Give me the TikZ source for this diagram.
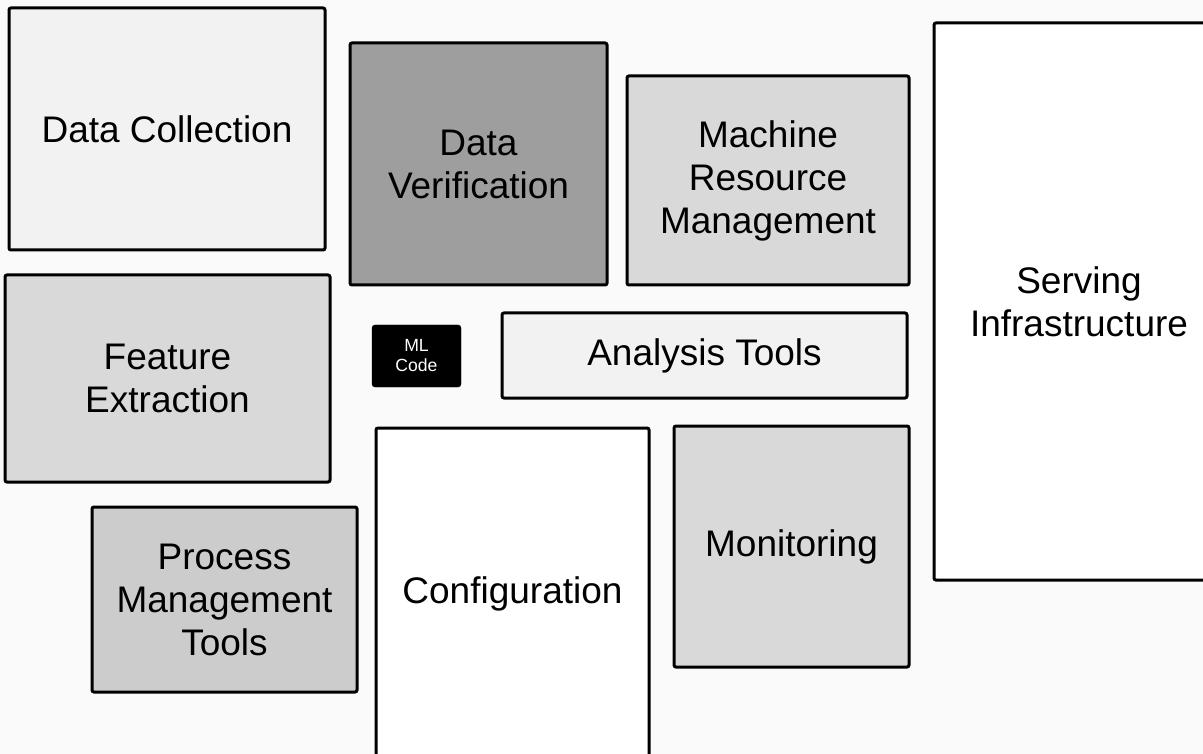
\documentclass[tikz,border=0pt]{standalone}
\usepackage{fontspec}
\setmainfont{Liberation Sans}
\definecolor{back}{HTML}{FAFAFA}
\definecolor{light}{HTML}{F2F2F2}
\definecolor{mid}{HTML}{D9D9D9}
\definecolor{midtwo}{HTML}{CCCCCC}
\definecolor{dark}{HTML}{9E9E9E}
\begin{document}
\begin{tikzpicture}[x=1pt,y=-1pt,
  box/.style={draw, line width=3pt, rounded corners=2pt, align=center, inner sep=0pt,
    font=\fontsize{37}{43}\selectfont}]
\useasboundingbox (0,0) rectangle (1203,754);
\clip (0,0) rectangle (1203,754);
\fill[back] (0,0) rectangle (1203,754);

\node[box, fill=light, minimum width=316pt, minimum height=242pt] (1) at (167,129) {Data Collection};
\node[box, fill=dark, minimum width=257pt, minimum height=242pt] (2) at (478.5,164) {Data\\Verification};
\node[box, fill=mid, minimum width=282pt, minimum height=209pt] (3) at (768,180.5) {Machine\\Resource\\Management};
\node[box, fill=white, minimum width=290pt, minimum height=557pt] (4) at (1079,301.5) {Serving\\Infrastructure};
\node[box, fill=mid, minimum width=325pt, minimum height=207pt] (5) at (167.5,378.5) {Feature\\Extraction};
\node[draw, fill=black, text=white, rounded corners=3pt, align=center, inner sep=0pt,
  minimum width=89pt, minimum height=62pt, font=\fontsize{17.6}{20}\selectfont] (6) at (416.5,356) {ML\\Code};
\node[box, fill=light, minimum width=405pt, minimum height=85pt] (7) at (704.5,355.5) {Analysis Tools};
\node[box, fill=white, minimum width=273pt, minimum height=332pt] (8) at (512.5,594) {Configuration};
\node[box, fill=mid, minimum width=235pt, minimum height=241pt] (9) at (791.5,546.5) {Monitoring};
\node[box, fill=midtwo, minimum width=265pt, minimum height=185pt] (10) at (224.5,599.5) {Process\\Management\\Tools};
\end{tikzpicture}
\end{document}
